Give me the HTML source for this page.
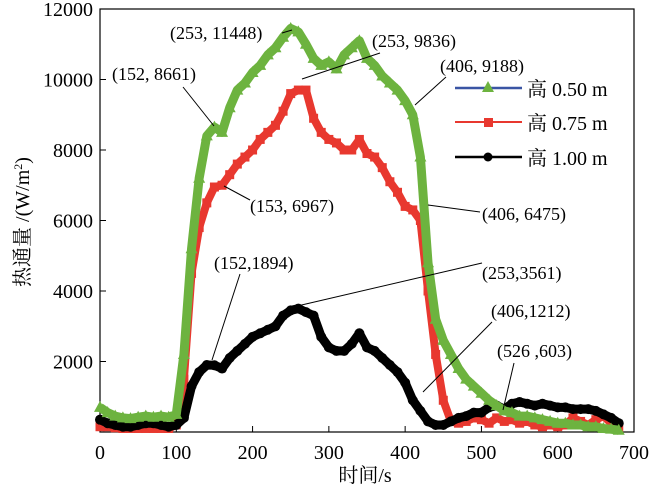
<!DOCTYPE html>
<html><head><meta charset="utf-8"><style>
html,body{margin:0;padding:0;background:#fff;}
svg{display:block;font-family:"Liberation Serif","Noto Serif CJK SC",serif;}
</style></head><body>
<svg id="chart" width="659" height="498" viewBox="0 0 659 498" xmlns="http://www.w3.org/2000/svg">
<g id="axes"></g>
<g id="series"></g>
<g id="annot" font-size="18" fill="#000">
<text x="170" y="39">(253, 11448)</text>
<line x1="282" y1="33" x2="292" y2="30" stroke="#000" stroke-width="1"/>
<text x="112" y="80">(152, 8661)</text>
<line x1="183" y1="87" x2="214" y2="126" stroke="#000" stroke-width="1"/>
<text x="372" y="47">(253, 9836)</text>
<line x1="380" y1="53" x2="302" y2="79" stroke="#000" stroke-width="1"/>
<text x="440" y="72">(406, 9188)</text>
<line x1="446" y1="77" x2="415" y2="105" stroke="#000" stroke-width="1"/>
<text x="250" y="212">(153, 6967)</text>
<line x1="250" y1="200" x2="224" y2="186" stroke="#000" stroke-width="1"/>
<text x="482" y="220">(406, 6475)</text>
<line x1="480" y1="212" x2="428" y2="205" stroke="#000" stroke-width="1"/>
<text x="214" y="269">(152,1894)</text>
<line x1="240" y1="274" x2="212" y2="360" stroke="#000" stroke-width="1"/>
<text x="482" y="279">(253,3561)</text>
<line x1="482" y1="263" x2="293" y2="307" stroke="#000" stroke-width="1"/>
<text x="491" y="317">(406,1212)</text>
<line x1="492" y1="322" x2="423" y2="392" stroke="#000" stroke-width="1"/>
<text x="497" y="357">(526 ,603)</text>
<line x1="514" y1="363" x2="503" y2="410" stroke="#000" stroke-width="1"/>
</g>
<g id="legend" font-size="20">
<g>
<line x1="455" y1="88" x2="522" y2="88" stroke="#3a55a4" stroke-width="2.5"/>
<polygon points="488,81 494,92 482,92" fill="#6db33f"/>
<text x="527" y="96">高 0.50 m</text></g>
<g>
<line x1="455" y1="122" x2="522" y2="122" stroke="#e8382f" stroke-width="2"/>
<rect x="484" y="118" width="9" height="9" fill="#e8382f"/>
<text x="527" y="130">高 0.75 m</text></g>
<g>
<line x1="455" y1="157" x2="522" y2="157" stroke="#000" stroke-width="2.5"/>
<circle cx="488" cy="157" r="4.5" fill="#000"/>
<text x="527" y="165">高 1.00 m</text></g>
</g>
</svg>
<script>
const times=[0,10,20,30,40,50,60,70,80,90,100,110,120,130,140,150,160,170,180,190,200,210,220,230,240,250,260,270,280,290,300,310,320,330,340,350,360,370,380,390,400,410,420,430,440,450,460,470,480,490,500,510,520,530,540,550,560,570,580,590,600,610,620,630,640,650,660,670,680];
const flux050=[700,550,450,400,380,420,450,420,450,420,500,2200,5200,7200,8400,8650,8500,9200,9700,9900,10200,10400,10700,10900,11200,11448,11350,11000,10600,10400,10500,10300,10700,10900,11100,10600,10400,10100,9900,9700,9400,9000,7800,4800,3200,2600,2200,1800,1500,1300,1100,900,750,600,550,450,450,400,350,300,250,250,200,200,150,150,100,80,50];
const flux075=[150,150,120,100,100,100,100,100,100,100,200,1500,4500,5800,6500,6950,7000,7300,7600,7800,8000,8300,8500,8700,9100,9600,9700,9700,8900,8500,8300,8200,8000,8000,8300,7900,7800,7500,7100,6800,6400,6300,6000,4000,2200,900,300,250,300,400,350,250,400,300,350,250,300,200,150,200,150,200,400,300,200,350,450,250,100];
const flux100=[350,250,200,150,150,200,250,250,200,150,200,400,1300,1700,1900,1894,1800,2100,2300,2500,2700,2800,2900,3000,3300,3450,3500,3400,3300,2700,2400,2300,2300,2500,2800,2400,2300,2100,1900,1700,1400,900,600,300,200,200,300,400,450,550,550,700,750,650,800,850,800,750,800,750,700,700,650,650,650,600,500,400,250];
const xTicks=[0,100,200,300,400,500,600,700];
const yTicks=[2000,4000,6000,8000,10000,12000];
const NS="http://www.w3.org/2000/svg";
const L=100,R=634,T=9,B=432;
function X(v){return L+v*(R-L)/700;}
function Y(v){return B-v*(B-T)/12000;}
function mk(tag,attrs,parent){const e=document.createElementNS(NS,tag);for(const k in attrs)e.setAttribute(k,attrs[k]);parent.appendChild(e);return e;}
const ax=document.getElementById('axes');
const frame=mk('rect',{x:L,y:T,width:R-L,height:B-T,fill:'none',stroke:'#000','stroke-width':1.2},ax);


xTicks.forEach(v=>{
 const tk=mk('line',{x1:X(v),x2:X(v),y1:B,y2:B-6,stroke:'#000'},ax);
 
 
 const t=mk('text',{x:X(v),y:B+27,'text-anchor':'middle','font-size':20},ax);t.textContent=v;
 
 
});
yTicks.forEach(v=>{
 const tk=mk('line',{x1:L,x2:L+6,y1:Y(v),y2:Y(v),stroke:'#000'},ax);
 
 
 const t=mk('text',{x:L-7,y:Y(v)+7,'text-anchor':'end','font-size':20},ax);t.textContent=v;
 
 
});
const xt=mk('text',{x:365,y:482,'text-anchor':'middle','font-size':20},ax);xt.textContent='时间/s';


const yt=mk('text',{x:0,y:0,'text-anchor':'middle','font-size':20,transform:'translate(29,222) rotate(-90)'},ax);
yt.innerHTML='热通量 /(W/m<tspan dy="-7" font-size="12">2</tspan><tspan dy="7">)</tspan>';


const sg=document.getElementById('series');
function draw(vals,color,lineColor,shape,name,band){
 const g=mk('g',{},sg);
 
 
 const pts=times.map((t,i)=>X(t)+','+Y(vals[i])).join(' ');
 mk('polyline',{points:pts,fill:'none',stroke:color,'stroke-width':band,'stroke-linejoin':'round'},g);
 mk('polyline',{points:pts,fill:'none',stroke:lineColor,'stroke-width':1.5},g);
 times.forEach((t,i)=>{
  const x=X(t),y=Y(vals[i]);let m;
  if(shape==='tri')m=mk('polygon',{points:`${x},${y-6.5} ${x+6},${y+4.5} ${x-6},${y+4.5}`,fill:color},g);
  else if(shape==='sq')m=mk('rect',{x:x-4.5,y:y-4.5,width:9,height:9,fill:color},g);
  else m=mk('circle',{cx:x,cy:y,r:5,fill:color},g);
  
  
 });
}
draw(flux075,'#e8382f','#e8382f','sq','series-075m',8);
draw(flux100,'#000','#000','circ','series-100m',9);
draw(flux050,'#6db33f','#6db33f','tri','series-050m',9);
</script>
</body></html>
